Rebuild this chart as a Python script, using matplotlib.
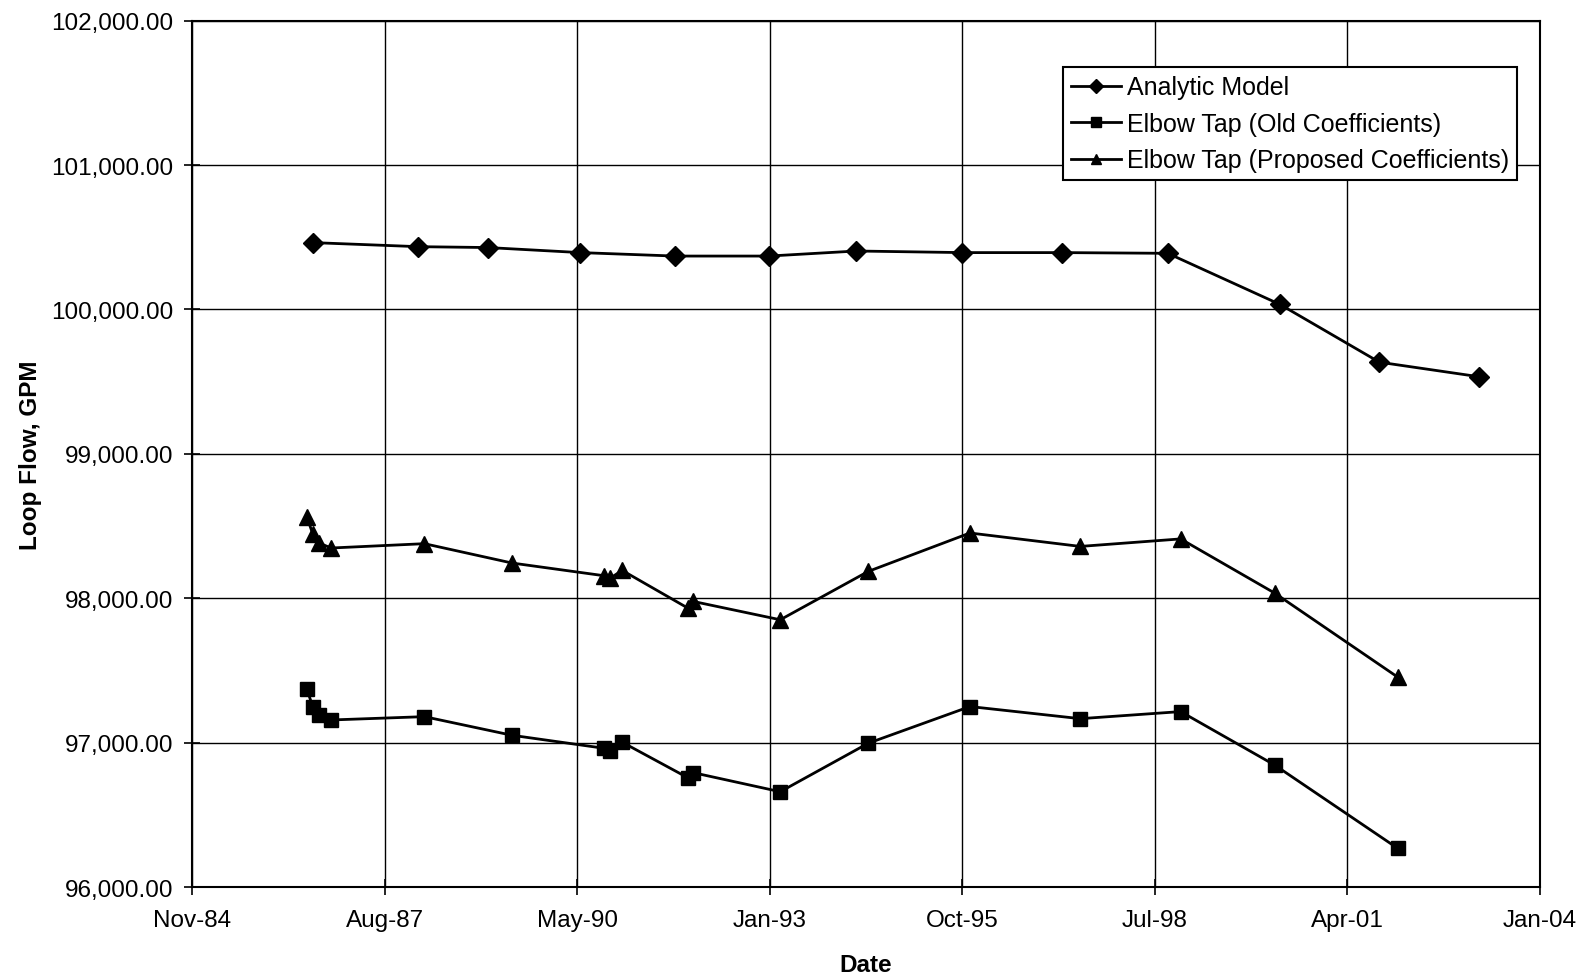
import numpy as np
import matplotlib
matplotlib.use("Agg")
import matplotlib.pyplot as plt
import matplotlib.dates as mdates
from matplotlib.ticker import FuncFormatter, MultipleLocator

plt.rcParams['font.family'] = ['Liberation Sans', 'DejaVu Sans']

# loop flow data, GPM
analytic_dates = np.array(['1986-08-06', '1988-02-03', '1989-01-28', '1990-05-24',
                           '1991-09-27', '1993-01-26', '1994-04-26', '1995-10-29',
                           '1997-03-29', '1998-09-29', '2000-05-04', '2001-10-02',
                           '2003-03-05'], dtype='datetime64[D]')
analytic_flow = [100463, 100435, 100429, 100394, 100370, 100370, 100405,
                 100394, 100394, 100389, 100035, 99635, 99534]

tap_dates = np.array(['1986-07-04', '1986-08-03', '1986-09-04', '1986-11-07',
                      '1988-03-05', '1989-06-03', '1990-09-24', '1990-10-27',
                      '1990-12-27', '1991-12-03', '1991-12-31', '1993-03-27',
                      '1994-06-27', '1995-12-07', '1997-07-02', '1998-12-05',
                      '2000-04-06', '2002-01-05'], dtype='datetime64[D]')
old_coeff = [97370, 97250, 97192, 97157, 97180, 97051, 96961, 96945, 97003,
             96757, 96792, 96660, 96996, 97250, 97166, 97215, 96845, 96268]
proposed_coeff = [98563, 98447, 98383, 98348, 98378, 98244, 98156, 98140, 98193,
                  97932, 97978, 97851, 98186, 98452, 98359, 98411, 98036, 97454]

# date axis ticks every 1000 days, Nov-84 through Jan-04
tick_dates = np.arange(np.datetime64('1984-11-14'), np.datetime64('2004-01-20'),
                       np.timedelta64(1000, 'D'))

fig = plt.figure(figsize=(15.85, 9.78), dpi=100)
ax = fig.add_axes([0.1211, 0.092, 0.8505, 0.8858])

ax.plot(analytic_dates, analytic_flow, color='black', lw=2.0, marker='D',
        ms=10.5, label='Analytic Model')
ax.plot(tap_dates, old_coeff, color='black', lw=2.0, marker='s',
        ms=9.5, label='Elbow Tap (Old Coefficients)')
ax.plot(tap_dates, proposed_coeff, color='black', lw=2.0, marker='^',
        ms=11, label='Elbow Tap (Proposed Coefficients)')

ax.set_xlim(tick_dates[0], tick_dates[-1])
ax.set_ylim(96000, 102000)
ax.set_xticks(tick_dates)
ax.xaxis.set_major_formatter(mdates.DateFormatter('%b-%y'))
ax.yaxis.set_major_locator(MultipleLocator(1000))
ax.yaxis.set_major_formatter(FuncFormatter(lambda v, p: f'{v:,.2f}'))

ax.grid(True, color='black', lw=1.0)
ax.set_axisbelow(True)
for s in ax.spines.values():
    s.set_color('black')
    s.set_linewidth(1.5)

ax.tick_params(axis='both', direction='inout', length=11, width=1.2,
               labelsize=17.5, colors='black')
ax.tick_params(axis='y', pad=8)
ax.tick_params(axis='x', pad=10)

ax.set_xlabel('Date', fontsize=17.5, fontweight='bold')
ax.set_ylabel('Loop Flow, GPM', fontsize=17.5, fontweight='bold')
ax.xaxis.label.set_va('center')
ax.yaxis.label.set_va('center')
ax.xaxis.set_label_coords(0.5, -0.089)
ax.yaxis.set_label_coords(-0.12, 0.5)

leg = ax.legend(loc='upper right', bbox_to_anchor=(0.983, 0.946),
                borderaxespad=0, fontsize=18, frameon=True, fancybox=False,
                edgecolor='black', framealpha=1, handlelength=2.0,
                handletextpad=0.25, markerscale=0.7, labelspacing=0.5,
                borderpad=0.32)
leg.get_frame().set_linewidth(1.5)

fig.savefig('out.png', dpi=100)
